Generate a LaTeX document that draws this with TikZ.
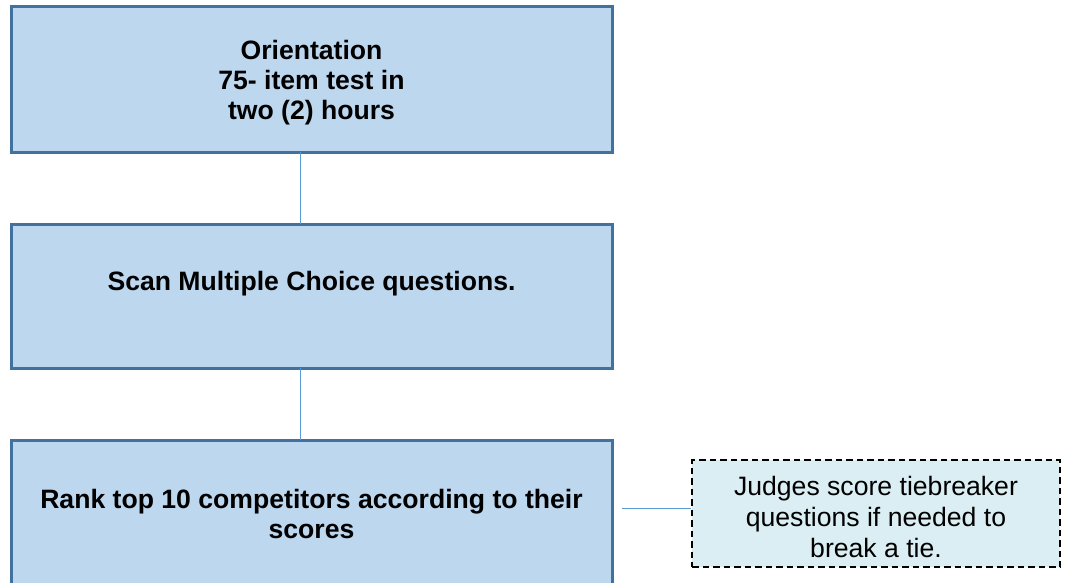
\documentclass[tikz,border=0pt]{standalone}
\usepackage{fontspec}
\setmainfont{Liberation Sans}
\definecolor{boxfill}{HTML}{BDD7EE}
\definecolor{boxline}{HTML}{41719C}
\definecolor{conn}{HTML}{5B9BD5}
\definecolor{notefill}{HTML}{DAEEF3}
\begin{document}
\begin{tikzpicture}[x=1pt,y=-1pt,
  stage/.style={draw=boxline,line width=3pt,fill=boxfill},
  stagetext/.style={align=center,font=\fontsize{26.6}{30}\selectfont\bfseries,inner sep=0pt},
  notetext/.style={align=center,font=\fontsize{26.6}{31}\selectfont,inner sep=0pt},
  note/.style={draw=black,line width=1.5pt,dash pattern=on 6.5pt off 4pt,fill=notefill},
  link/.style={draw=conn,line width=1pt}]
\useasboundingbox (0,0) rectangle (1070,583);
\fill[white] (0,0) rectangle (1070,583);
\draw[stage] (11,7) rectangle (612,152);
\coordinate (b1) at (300,152);
\draw[stage] (11,224) rectangle (612,368);
\coordinate (b2t) at (300,224);
\coordinate (b2) at (300,368);
\draw[stage] (11,440) rectangle (612,586);
\coordinate (b3t) at (300,440);
\coordinate (b3r) at (622,508);
\node[note,minimum width=368pt,minimum height=107pt,inner sep=0pt] (n) at (876,513.5) {};
\node[stagetext] (t1) at (311.5,83) {Orientation\\75- item test in\\two (2) hours};
\node[stagetext] (t2) at (311.5,284) {Scan Multiple Choice questions.};
\node[stagetext] (t3) at (311.5,514) {Rank top 10 competitors according to their\\scores};
\node[notetext] (t4) at (876,517) {Judges score tiebreaker\\questions if needed to\\break a tie.};
\draw[link] (b1) -- (b2t);
\draw[link] (b2) -- (b3t);
\draw[link] (b3r) -- (n.west |- b3r);
\end{tikzpicture}
\end{document}
